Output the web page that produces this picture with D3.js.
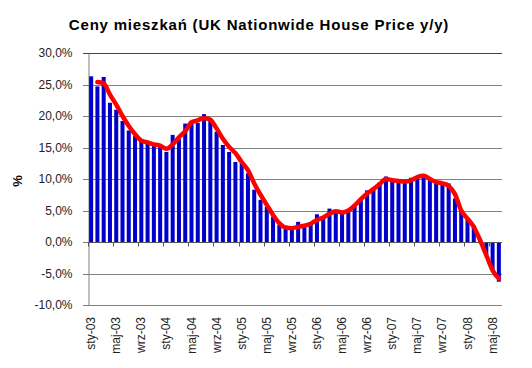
<!DOCTYPE html>
<html>
<head>
<meta charset="utf-8">
<script src="https://cdn.jsdelivr.net/npm/d3@7/dist/d3.min.js"></script>
<style>
  body { margin: 0; background: #fff; }
  svg { font-family: "Liberation Sans", Arial, sans-serif; }
</style>
</head>
<body>
<div id="chart"></div>
<script>
var years = ["03", "04", "05", "06", "07", "08"];
var monthNames = ["sty", "lut", "mar", "kwi", "maj", "cze", "lip", "sie", "wrz", "paź", "lis", "gru"];

// sty-03 .. cze-08
var months = [];
years.forEach(function(y) {
    monthNames.forEach(function(m) { months.push(m + "-" + y); });
});
months = months.slice(0, 66);

// roczna zmiana cen (%)
var values = [
    26.3, 24.7, 26.2, 22.1, 21.0, 19.2, 17.7, 16.8, 16.3, 15.9, 15.7, 15.3,
    14.3, 17.0, 16.3, 18.8, 19.2, 18.9, 20.3, 19.2, 17.5, 15.4, 14.3, 12.7,
    12.5, 10.9, 8.3, 6.7, 5.6, 4.0, 2.7, 2.1, 2.1, 3.2, 2.4, 2.7,
    4.4, 3.9, 5.3, 4.7, 4.5, 5.1, 5.6, 6.6, 8.2, 8.6, 9.5, 10.4,
    9.9, 9.9, 9.8, 10.2, 10.4, 10.8, 10.2, 9.7, 9.3, 9.3, 6.9, 5.1,
    3.7, 2.6, 0.5, -2.0, -4.5, -6.3
];

// wygładzona linia (czerwona)
var trend = [
    null, 25.4, 25.2, 23.4, 21.8, 20.0, 18.4, 17.1, 16.1, 15.8, 15.5, 15.3,
    14.8, 15.5, 16.6, 17.6, 19.0, 19.3, 19.7, 19.4, 18.0, 16.4, 15.1, 14.1,
    12.7, 11.4, 9.3, 7.5, 5.9, 4.3, 3.0, 2.3, 2.2, 2.4, 2.6, 2.9,
    3.5, 3.9, 4.5, 4.9, 4.7, 5.0, 5.8, 6.8, 7.7, 8.4, 9.2, 10.0,
    9.8, 9.7, 9.6, 9.8, 10.3, 10.5, 10.0, 9.5, 9.3, 8.9, 7.6, 5.0,
    3.7, 2.4, 0.3, -2.1, -4.5, -5.8
];

var yTicks = [-10, -5, 0, 5, 10, 15, 20, 25, 30];

var title = "Ceny mieszkań (UK Nationwide House Price y/y)";

var W = 532, H = 368;
var margin = {top: 53, right: 30, bottom: 63, left: 88};

var svg = d3.select("#chart").append("svg")
    .attr("width", W)
    .attr("height", H);

var x = d3.scaleBand()
    .domain(months)
    .range([margin.left, W - margin.right])
    .paddingInner(0.36)
    .paddingOuter(0.18);

var y = d3.scaleLinear()
    .domain([-10, 30])
    .range([H - margin.bottom, margin.top]);

var fmt = function(d) { return d3.format(".1f")(d).replace(".", ",").replace("−", "-") + "%"; };

// siatka
svg.append("g")
    .selectAll("line")
    .data(yTicks)
    .enter().append("line")
    .attr("x1", margin.left - 5)
    .attr("x2", W - margin.right)
    .attr("y1", function(d) { return Math.round(y(d)) + 0.5; })
    .attr("y2", function(d) { return Math.round(y(d)) + 0.5; })
    .attr("stroke", function(d) { return d === 30 ? "#444" : "#808080"; })
    .attr("stroke-width", 1);

// os Y
var yAxis = svg.append("g")
    .attr("transform", "translate(" + (margin.left + 0.5) + ",0)")
    .call(d3.axisLeft(y).tickValues(yTicks).tickFormat(fmt).tickSize(0).tickPadding(16));
yAxis.select(".domain").attr("stroke", "#808080");
yAxis.selectAll("text")
    .attr("font-size", 12)
    .attr("fill", "#222")
    .attr("font-family", "Liberation Sans, Arial, sans-serif");

// slupki
svg.append("g")
    .selectAll("rect")
    .data(values)
    .enter().append("rect")
    .attr("x", function(d, i) { return x(months[i]); })
    .attr("width", x.bandwidth())
    .attr("y", function(d) { return y(Math.max(0, d)); })
    .attr("height", function(d) { return Math.abs(y(d) - y(0)); })
    .attr("fill", "#0000cc");

// znaczniki na osi zero co 4 miesiace
var tickIdx = d3.range(0, 67, 4);
svg.append("g")
    .selectAll("line")
    .data(tickIdx)
    .enter().append("line")
    .attr("x1", function(i) { return Math.round(margin.left + x.step() * i) + 0.5; })
    .attr("x2", function(i) { return Math.round(margin.left + x.step() * i) + 0.5; })
    .attr("y1", Math.round(y(0)) + 0.5)
    .attr("y2", Math.round(y(0)) + 4.5)
    .attr("stroke", "#555");

// linia zero
svg.append("line")
    .attr("x1", margin.left)
    .attr("x2", W - margin.right)
    .attr("y1", Math.round(y(0)) + 0.5)
    .attr("y2", Math.round(y(0)) + 0.5)
    .attr("stroke", "#555");

// czerwona linia
var line = d3.line()
    .defined(function(d) { return d != null; })
    .curve(d3.curveMonotoneX)
    .x(function(d, i) { return x(months[i]) + x.bandwidth() / 2; })
    .y(function(d) { return y(d); });

svg.append("path")
    .datum(trend)
    .attr("fill", "none")
    .attr("stroke", "#ff0000")
    .attr("stroke-width", 4.5)
    .attr("stroke-linejoin", "round")
    .attr("stroke-linecap", "round")
    .attr("d", line);

// etykiety osi X
svg.append("g")
    .selectAll("text")
    .data(months.filter(function(d, i) { return i % 4 === 0; }))
    .enter().append("text")
    .attr("transform", function(d) {
        return "translate(" + (x(d) + x.bandwidth() / 2 + 4) + "," + (H - margin.bottom + 12) + ")rotate(-90)";
    })
    .attr("text-anchor", "end")
    .attr("font-size", 12)
    .attr("fill", "#222")
    .text(function(d) { return d; });

// tytul osi Y
svg.append("text")
    .attr("transform", "translate(22," + ((margin.top + H - margin.bottom) / 2 + 2) + ")rotate(-90)")
    .attr("text-anchor", "middle")
    .attr("font-size", 13)
    .attr("font-weight", "bold")
    .text("%");

// tytul
svg.append("text")
    .attr("x", 259)
    .attr("y", 30)
    .attr("text-anchor", "middle")
    .attr("font-size", 15)
    .attr("font-weight", "bold")
    .attr("letter-spacing", 0.8)
    .text(title);
</script>
</body>
</html>
